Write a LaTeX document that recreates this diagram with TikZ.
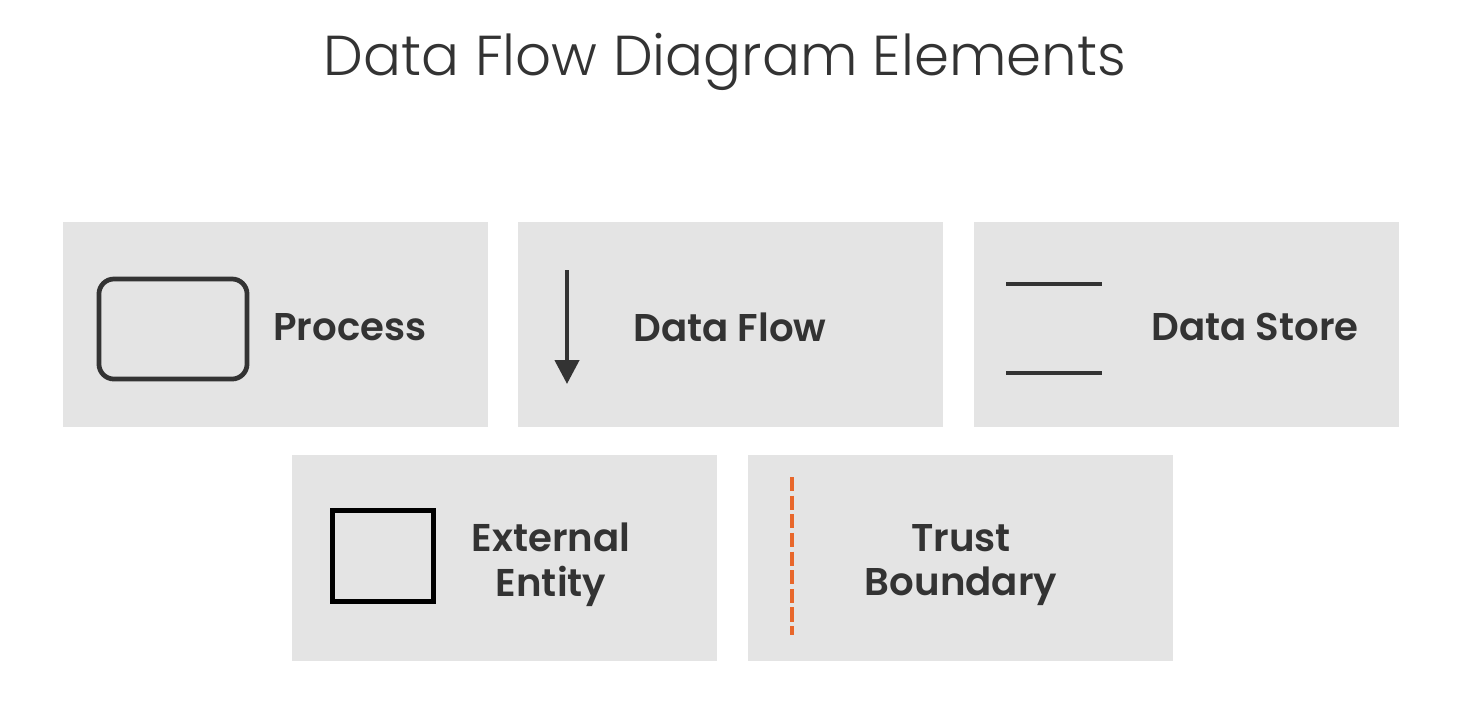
\documentclass[tikz,border=0pt]{standalone}
\usepackage{fontspec}
\setmainfont{Poppins}[BoldFont={Poppins SemiBold}]
\newfontfamily\titlefont{Poppins Light}
\usepackage{tikz}
\usetikzlibrary{arrows.meta}
\definecolor{panelgray}{HTML}{E4E4E4}
\definecolor{inkgray}{HTML}{333333}
\definecolor{trustorange}{HTML}{E8672B}

\begin{document}
\begin{tikzpicture}[
  x=0.01cm, y=-0.01cm,
  panel/.style={rectangle,fill=panelgray,minimum width=4.25cm,minimum height=2.05cm,inner sep=0pt,outer sep=0pt},
  label/.style={text=inkgray,font=\fontsize{11}{12.5}\selectfont\bfseries,align=center,inner sep=0pt},
  every node/.style={}
]
  \useasboundingbox (0,0) rectangle (1470,723);
  \node[text=inkgray,font=\titlefont\fontsize{16}{18}\selectfont] (title) at (725,62) {Data Flow Diagram Elements};

  % top row
  \node[panel] (pproc) at (275.5,324.5) {};
  \node[panel] (pflow) at (730.5,324.5) {};
  \node[panel] (pstore) at (1186.5,324.5) {};
  % bottom row
  \node[panel] (pext) at (504.5,558) {};
  \node[panel] (ptrust) at (960.5,558) {};

  \begin{scope}
    \node[draw=inkgray,line width=1.35pt,rounded corners=0.15cm,minimum width=1.48cm,minimum height=1.00cm] (proc) at (173,329) {};
    \node[label] (proclbl) at (350,327) {Process};
  \end{scope}

  \begin{scope}
    \coordinate (flowtop) at (567,270);
    \coordinate (flowend) at (567,384);
    \draw[inkgray,line width=1.25pt,-{Triangle[width=2.4mm,length=2.4mm]}] (flowtop) -- (flowend);
    \node[label] (flowlbl) at (730,327) {Data Flow};
  \end{scope}

  \begin{scope}
    \coordinate (storeA) at (1006,284);
    \coordinate (storeB) at (1102,284);
    \coordinate (storeC) at (1006,373);
    \coordinate (storeD) at (1102,373);
    \draw[inkgray,line width=1.25pt] (storeA)--(storeB) (storeC)--(storeD);
    \node[label] (storelbl) at (1255,327) {Data Store};
  \end{scope}

  \begin{scope}
    \node[draw=black,line width=1.4pt,minimum width=1.01cm,minimum height=0.91cm,inner sep=0pt] (ext) at (383,556) {};
    \node[label] (extlbl) at (551,565) {External\\[0.2pt]Entity};
  \end{scope}

  \begin{scope}
    \coordinate (trusttop) at (792,477);
    \coordinate (trustend) at (792,635);
    \draw[trustorange,line width=1.3pt,dash pattern=on 4pt off 1.3pt] (trusttop) -- (trustend);
    \node[label] (trustlbl) at (961,565) {Trust\\[0.2pt]Boundary};
  \end{scope}
\end{tikzpicture}
\end{document}
